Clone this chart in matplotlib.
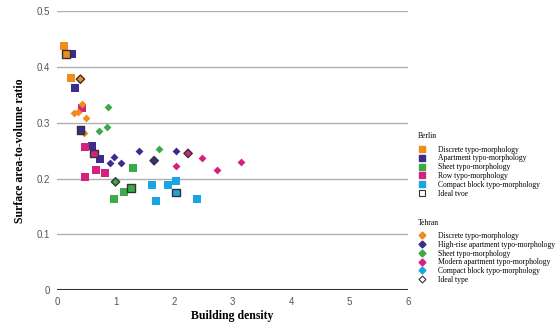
import matplotlib.pyplot as plt
from matplotlib.lines import Line2D

# Berlin (squares)
berlin_discrete_x = [0.115, 0.235]
berlin_discrete_y = [0.437, 0.380]
berlin_apartment_x = [0.26, 0.30, 0.59, 0.74]
berlin_apartment_y = [0.423, 0.363, 0.258, 0.235]
berlin_sheet_x = [0.97, 1.14, 1.30]
berlin_sheet_y = [0.163, 0.176, 0.218]
berlin_row_x = [0.42, 0.47, 0.66, 0.82, 0.47]
berlin_row_y = [0.326, 0.257, 0.215, 0.209, 0.202]
berlin_compact_x = [1.62, 1.89, 2.04, 1.70, 2.39]
berlin_compact_y = [0.189, 0.189, 0.195, 0.160, 0.164]
# Berlin ideal types (colour of their group)
berlin_ideal_x = [0.149, 0.40, 1.26, 0.63, 2.03]
berlin_ideal_y = [0.423, 0.287, 0.183, 0.245, 0.175]
berlin_ideal_grp = ['discrete', 'apartment', 'sheet', 'row', 'compact']

# Tehran (diamonds)
tehran_discrete_x = [0.29, 0.36, 0.43, 0.50, 0.46]
tehran_discrete_y = [0.317, 0.320, 0.334, 0.309, 0.281]
tehran_highrise_x = [0.98, 0.90, 1.09, 1.40, 2.04]
tehran_highrise_y = [0.239, 0.228, 0.227, 0.250, 0.249]
tehran_sheet_x = [0.87, 0.86, 0.72, 1.74]
tehran_sheet_y = [0.329, 0.293, 0.285, 0.253]
tehran_modern_x = [2.04, 2.48, 2.74, 3.15]
tehran_modern_y = [0.222, 0.237, 0.215, 0.230]
tehran_ideal_x = [0.40, 1.66, 1.00, 2.24]
tehran_ideal_y = [0.378, 0.232, 0.194, 0.245]
tehran_ideal_grp = ['discrete', 'apartment', 'sheet', 'row']

colors = {'discrete': '#F28A1E', 'apartment': '#3A2D8C', 'sheet': '#3DAA48',
          'row': '#D4237E', 'compact': '#1AA5E0'}

serif = 'Liberation Serif'
sans = 'Liberation Sans'

fig = plt.figure(figsize=(5.59, 3.26), dpi=100)
ax = fig.add_axes([0.102, 0.110, 0.628, 0.856])

sq = dict(marker='s', s=30, linewidths=0, zorder=3)
dm = dict(marker='D', s=16, linewidths=0, zorder=3)

ax.scatter(berlin_discrete_x, berlin_discrete_y, color=colors['discrete'], **sq)
ax.scatter(berlin_apartment_x, berlin_apartment_y, color=colors['apartment'], **sq)
ax.scatter(berlin_sheet_x, berlin_sheet_y, color=colors['sheet'], **sq)
ax.scatter(berlin_row_x, berlin_row_y, color=colors['row'], **sq)
ax.scatter(berlin_compact_x, berlin_compact_y, color=colors['compact'], **sq)
ax.scatter(berlin_ideal_x, berlin_ideal_y, color=[colors[g] for g in berlin_ideal_grp],
           marker='s', s=30, edgecolors='#333333', linewidths=1.0, zorder=4)

ax.scatter(tehran_discrete_x, tehran_discrete_y, color=colors['discrete'], **dm)
ax.scatter(tehran_highrise_x, tehran_highrise_y, color=colors['apartment'], **dm)
ax.scatter(tehran_sheet_x, tehran_sheet_y, color=colors['sheet'], **dm)
ax.scatter(tehran_modern_x, tehran_modern_y, color=colors['row'], **dm)
ax.scatter(tehran_ideal_x, tehran_ideal_y, color=[colors[g] for g in tehran_ideal_grp],
           marker='D', s=18, edgecolors='#333333', linewidths=1.0, zorder=4)

ax.set_xlim(0, 6)
ax.set_ylim(0, 0.5)
ax.set_xticks(range(7))
ax.set_yticks([0, 0.1, 0.2, 0.3, 0.4, 0.5])
ax.set_yticklabels(['0', '0.1', '0.2', '0.3', '0.4', '0.5'])
ax.grid(axis='y', color='#b0b0b0', linewidth=1.0, zorder=0)
ax.axhline(0, color='#333333', linewidth=1.5, zorder=2)
for s in ax.spines.values():
    s.set_visible(False)
ax.tick_params(length=0, labelsize=7, labelcolor='#555555', pad=5)
for lab in ax.get_xticklabels() + ax.get_yticklabels():
    lab.set_fontfamily(sans)
ax.set_xlabel('Building density', fontfamily=serif, fontweight='bold', fontsize=8.5, labelpad=2)
ax.set_ylabel('Surface area-to-volume ratio', fontfamily=serif, fontweight='bold', fontsize=8.5, labelpad=8)

names_b = ['Discrete typo-morphology', 'Apartment typo-morphology', 'Sheet typo-morphology',
           'Row typo-morphology', 'Compact block typo-morphology', 'Ideal tvoe']
names_t = ['Discrete typo-morphology', 'High-rise apartment typo-morphology', 'Sheet typo-morphology',
           'Modern apartment typo-morphology', 'Compact block typo-morphology', 'Ideal type']
keys = ['discrete', 'apartment', 'sheet', 'row', 'compact']

hb = [Line2D([], [], linestyle='none', marker='s', markersize=5, color=colors[k]) for k in keys]
hb.append(Line2D([], [], linestyle='none', marker='s', markersize=5, markerfacecolor='white',
                 markeredgecolor='#333333', markeredgewidth=0.8))
ht = [Line2D([], [], linestyle='none', marker='D', markersize=3.5, color=colors[k]) for k in keys]
ht.append(Line2D([], [], linestyle='none', marker='D', markersize=3.5, markerfacecolor='white',
                 markeredgecolor='#333333', markeredgewidth=0.8))

leg_kw = dict(frameon=False, loc='upper left', prop={'family': serif, 'size': 5.5},
              handlelength=1.0, handletextpad=1.6, labelspacing=0.1, borderaxespad=0,
              alignment='left', title_fontproperties={'family': serif, 'size': 5.5})
leg1 = fig.legend(hb, names_b, title='Berlin', bbox_to_anchor=(0.742, 0.604), **leg_kw)
leg2 = fig.legend(ht, names_t, title='Tehran', bbox_to_anchor=(0.742, 0.339), **leg_kw)
leg1._legend_box.sep = 4
leg2._legend_box.sep = 4

fig.savefig('out.png', dpi=100)
